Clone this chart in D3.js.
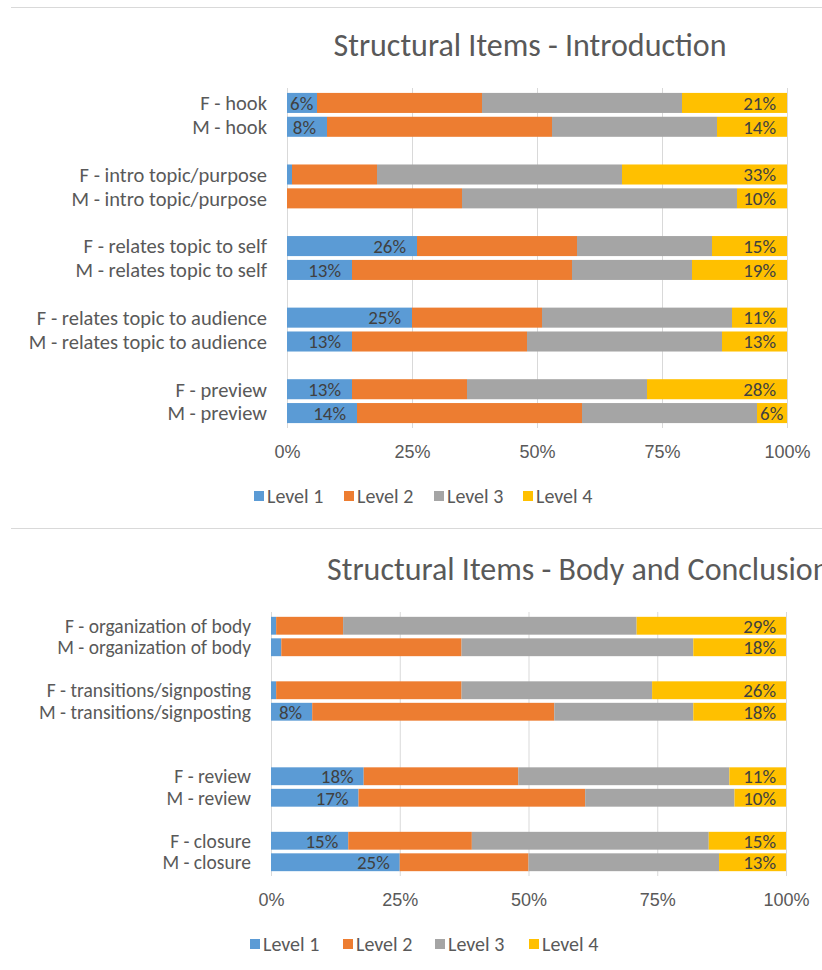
<!DOCTYPE html>
<html>
<head>
<meta charset="utf-8">
<script src="https://cdn.jsdelivr.net/npm/d3@7/dist/d3.min.js"></script>
<style>
  html, body { margin: 0; padding: 0; background: #fff; }
  svg { display: block; font-family: Carlito, Lato, "Open Sans", sans-serif; }
</style>
</head>
<body>
<svg id="chart" width="822" height="970"></svg>
<script>
// ---- Introduction chart data (null = spacer row between pairs) ----
const introCategories = [
  "F - hook", "M - hook", null,
  "F - intro topic/purpose", "M - intro topic/purpose", null,
  "F - relates topic to self", "M - relates topic to self", null,
  "F - relates topic to audience", "M - relates topic to audience", null,
  "F - preview", "M - preview"
];
const introLevel1 = [6, 8, null, 1, 0, null, 26, 13, null, 25, 13, null, 13, 14];
const introLevel2 = [33, 45, null, 17, 35, null, 32, 44, null, 26, 35, null, 23, 45];
const introLevel3 = [40, 33, null, 49, 55, null, 27, 24, null, 38, 39, null, 36, 35];
const introLevel4 = [21, 14, null, 33, 10, null, 15, 19, null, 11, 13, null, 28, 6];

// ---- Body and conclusion chart data ----
const bodyCategories = [
  "F - organization of body", "M - organization of body", null,
  "F - transitions/signposting", "M - transitions/signposting", null, null,
  "F - review", "M - review", null,
  "F - closure", "M - closure"
];
const bodyLevel1 = [1, 2, null, 1, 8, null, null, 18, 17, null, 15, 25];
const bodyLevel2 = [13, 35, null, 36, 47, null, null, 30, 44, null, 24, 25];
const bodyLevel3 = [57, 45, null, 37, 27, null, null, 41, 29, null, 46, 37];
const bodyLevel4 = [29, 18, null, 26, 18, null, null, 11, 10, null, 15, 13];

const levelNames = ["Level 1", "Level 2", "Level 3", "Level 4"];
const levelColors = ["#5B9BD5", "#ED7D31", "#A5A5A5", "#FFC000"];
const tickValues = [0, 25, 50, 75, 100];
const labelThreshold = 5;   // data labels only on Level 1 / Level 4 segments of at least 5%

const svg = d3.select("#chart");

// thin separators between the two chart objects
svg.append("line").attr("x1", 11).attr("x2", 822).attr("y1", 7.5).attr("y2", 7.5)
  .attr("stroke", "#d9d9d9").attr("stroke-width", 1);
svg.append("line").attr("x1", 11).attr("x2", 822).attr("y1", 528.5).attr("y2", 528.5)
  .attr("stroke", "#d9d9d9").attr("stroke-width", 1);

function drawChart(cfg) {
  const g = svg.append("g");
  const levels = [cfg.l1, cfg.l2, cfg.l3, cfg.l4];
  const rows = cfg.categories.map((c, i) => ({
    i, name: c, values: levels.map(a => a[i])
  })).filter(r => r.name !== null);

  const x = d3.scaleLinear().domain([0, 100]).range([cfg.x0, cfg.x1]);
  const y = d3.scaleBand().domain(d3.range(cfg.categories.length))
    .range([cfg.top, cfg.bottom]).paddingInner(cfg.pad).paddingOuter(cfg.pad / 2);

  // title
  g.append("text").attr("x", cfg.titleX).attr("y", cfg.titleY)
    .attr("text-anchor", cfg.titleAnchor)
    .attr("font-size", cfg.titleSize).attr("fill", "#595959")
    .text(cfg.title);

  // vertical gridlines
  g.append("g").selectAll("line").data(tickValues).join("line")
    .attr("x1", d => x(d) + 0.5).attr("x2", d => x(d) + 0.5)
    .attr("y1", cfg.top - 3).attr("y2", cfg.bottom + 3)
    .attr("stroke", "#d9d9d9").attr("stroke-width", 1);

  // x axis tick labels
  const xAxis = d3.axisBottom(x).tickValues(tickValues).tickSize(0).tickPadding(0)
    .tickFormat(d => d + "%");
  const ax = g.append("g").attr("transform", `translate(0,${cfg.tickY})`).call(xAxis);
  ax.select(".domain").remove();
  ax.selectAll("text").attr("font-size", cfg.tickSize).attr("fill", "#595959")
    .attr("font-family", null).attr("dy", 0);

  // category labels
  g.append("g").selectAll("text").data(rows).join("text")
    .attr("x", cfg.x0 - cfg.labelGap)
    .attr("y", d => y(d.i) + y.bandwidth() / 2)
    .attr("dy", "0.36em")
    .attr("text-anchor", "end")
    .attr("font-size", cfg.catSize).attr("fill", "#595959")
    .text(d => d.name);

  // stacked segments
  const segs = [];
  rows.forEach(r => {
    let acc = 0;
    r.values.forEach((v, k) => {
      segs.push({ i: r.i, k, v, start: acc, end: acc + v });
      acc += v;
    });
  });
  g.append("g").selectAll("rect").data(segs.filter(s => s.v > 0)).join("rect")
    .attr("x", s => x(s.start))
    .attr("width", s => x(s.end) - x(s.start))
    .attr("y", s => y(s.i))
    .attr("height", y.bandwidth())
    .attr("fill", s => levelColors[s.k]);

  // data labels (inside end) on Level 1 and Level 4
  const lbl = g.append("g").selectAll("text")
    .data(segs.filter(s => (s.k === 0 || s.k === 3) && s.v >= labelThreshold))
    .join("text")
    .attr("y", s => y(s.i) + y.bandwidth() / 2)
    .attr("dy", "0.36em")
    .attr("text-anchor", "end")
    .attr("font-size", cfg.valueSize).attr("fill", "#404040")
    .text(s => s.v + "%");
  lbl.each(function (s) {
    const w = this.getComputedTextLength();
    const xe = Math.max(x(s.end) - cfg.labelInset, x(s.start) + w + 3);
    d3.select(this).attr("x", xe);
  });

  // legend
  const lg = g.append("g").selectAll("g").data(levelNames).join("g")
    .attr("transform", (d, k) => `translate(${cfg.legendX[k]},${cfg.legendY})`);
  lg.append("rect").attr("x", 0).attr("y", -5).attr("width", 10).attr("height", 10)
    .attr("fill", (d, k) => levelColors[k]);
  lg.append("text").attr("x", 13).attr("y", 0).attr("dy", "0.36em")
    .attr("font-size", cfg.legendSize).attr("fill", "#595959").text(d => d);
}

drawChart({
  title: "Structural Items - Introduction",
  titleX: 530, titleY: 56, titleAnchor: "middle", titleSize: 32,
  categories: introCategories,
  l1: introLevel1, l2: introLevel2, l3: introLevel3, l4: introLevel4,
  x0: 287, x1: 787, top: 91, bottom: 425, pad: 0.16,
  labelGap: 20, catSize: 20.5, valueSize: 19, labelInset: 11,
  tickY: 458, tickSize: 18,
  legendX: [254, 344, 434, 523], legendY: 496, legendSize: 20
});

drawChart({
  title: "Structural Items - Body and Conclusion",
  titleX: 327, titleY: 580, titleAnchor: "start", titleSize: 32,
  categories: bodyCategories,
  l1: bodyLevel1, l2: bodyLevel2, l3: bodyLevel3, l4: bodyLevel4,
  x0: 271, x1: 786, top: 615, bottom: 873, pad: 0.17,
  labelGap: 20, catSize: 19.5, valueSize: 19, labelInset: 10,
  tickY: 906, tickSize: 18,
  legendX: [250, 343, 435, 529], legendY: 944, legendSize: 20
});
</script>
</body>
</html>
